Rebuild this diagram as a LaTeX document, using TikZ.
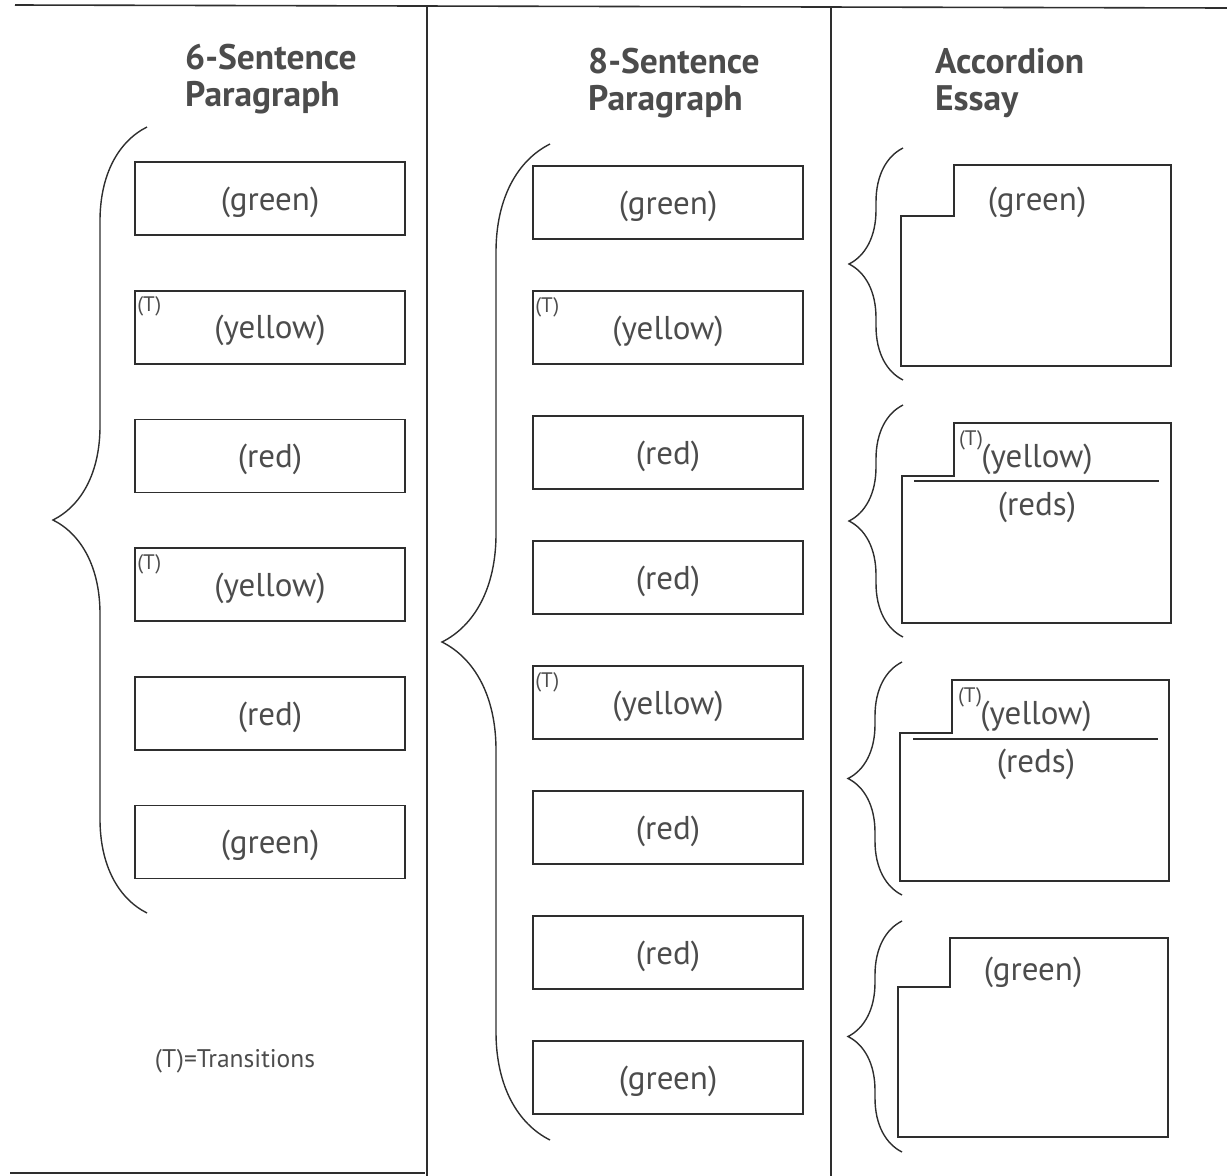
\documentclass[tikz,border=0pt]{standalone}
\usepackage{fontspec}
\setmainfont{PT Sans}
\usetikzlibrary{
  decorations.pathreplacing,
  positioning
}
\definecolor{inkgray}{HTML}{2E2E2E}
\definecolor{textgray}{HTML}{4C4C4C}
\tikzset{
  rule line/.style={
    inkgray,
    line width=1.6pt
  },
  sentence box/.style={
    draw=inkgray, line width=1.8pt,
    minimum width=270pt, minimum height=73pt, text depth=0pt,
    text=textgray, font=\fontsize{33}{36}\selectfont
  },
  label text/.style={
    text=textgray, inner sep=0pt,
    font=\fontsize{33}{36}\selectfont
  },
  trans mark/.style={
    text=textgray, inner sep=1pt,
    font=\fontsize{21}{24}\selectfont
  },
  heading/.style={
    text=textgray, align=left, anchor=north west, inner sep=0pt,
    font=\bfseries\fontsize{35.5}{37}\selectfont
  },
  curly/.style={
    decorate, decoration={brace, amplitude=#1},
    inkgray, line width=1.4pt
  },
  accordion/.style={
    draw=inkgray, line width=1.8pt
  }
}

\begin{document}
\begin{tikzpicture}[x=1pt, y=-1pt]
  \useasboundingbox (0,0) rectangle (1227,1176);
  % page rules
  \draw[rule line] (15,5) -- (1227,8);
  \draw[rule line] (427,6) -- (427,1176);
  \draw[rule line] (831,7) -- (831,1176);
  \draw[rule line] (10,1173) -- (425,1173);

  \node (h6) [heading] at (185,44) {6-Sentence\\Paragraph};
  \node (h8) [heading] at (588,48) {8-Sentence\\Paragraph};
  \node (hacc) [heading] at (935,48) {Accordion\\Essay};

  % six sentences
  \foreach \lab [count=\i] in {green,yellow,red,yellow,red,green}
    \node (l\i) [sentence box] at (270,{198.5+128.7*(\i-1)}) {(\lab)};
  \foreach \i in {2,4}
    \node (lt\i) [trans mark, below right=6pt and 2pt of l\i.north west] {(T)};
  \draw[curly=94pt] (147,913) -- (147,127);
  \node (legend) [label text, font=\fontsize{25.5}{28}\selectfont] at (235,1061) {(T)=Transitions};

  % eight sentences
  \foreach \lab [count=\i] in {green,yellow,red,red,yellow,red,red,green}
    \node (m\i) [sentence box] at (668,{202.5+125*(\i-1)}) {(\lab)};
  \foreach \i in {2,5}
    \node (mt\i) [trans mark, below right=6pt and 2pt of m\i.north west] {(T)};
  \draw[curly=108pt] (550,1140) -- (550,144);

  % accordion
  \draw[accordion] (954,165) -- (1171,165) -- (1171,366) -- (901,366) -- (901,216) -- (954,216) -- cycle;
  \node (a1) [label text] at (1037,202) {(green)};
  \draw[curly=54pt] (903,380) -- (903,148);

  \draw[accordion] (954,423) -- (1171,423) -- (1171,623) -- (902,623) -- (902,476) -- (954,476) -- cycle;
  \draw[accordion] (914,481) -- (1159,481);
  \node (a2y) [label text] at (1037,459) {(yellow)};
  \node (a2t) [trans mark] at (971,440) {(T)};
  \node (a2r) [label text] at (1037,507) {(reds)};
  \draw[curly=54pt] (903,637) -- (903,405);

  \draw[accordion] (952,680) -- (1169,680) -- (1169,881) -- (900,881) -- (900,733) -- (952,733) -- cycle;
  \draw[accordion] (913,739) -- (1158,739);
  \node (a3y) [label text] at (1036,716) {(yellow)};
  \node (a3t) [trans mark] at (970,697) {(T)};
  \node (a3r) [label text] at (1036,764) {(reds)};
  \draw[curly=54pt] (902,895) -- (902,662);

  \draw[accordion] (950,938) -- (1168,938) -- (1168,1137) -- (898,1137) -- (898,987) -- (950,987) -- cycle;
  \node (a4) [label text] at (1033,972) {(green)};
  \draw[curly=54pt] (902,1152) -- (902,921);
\end{tikzpicture}
\end{document}
